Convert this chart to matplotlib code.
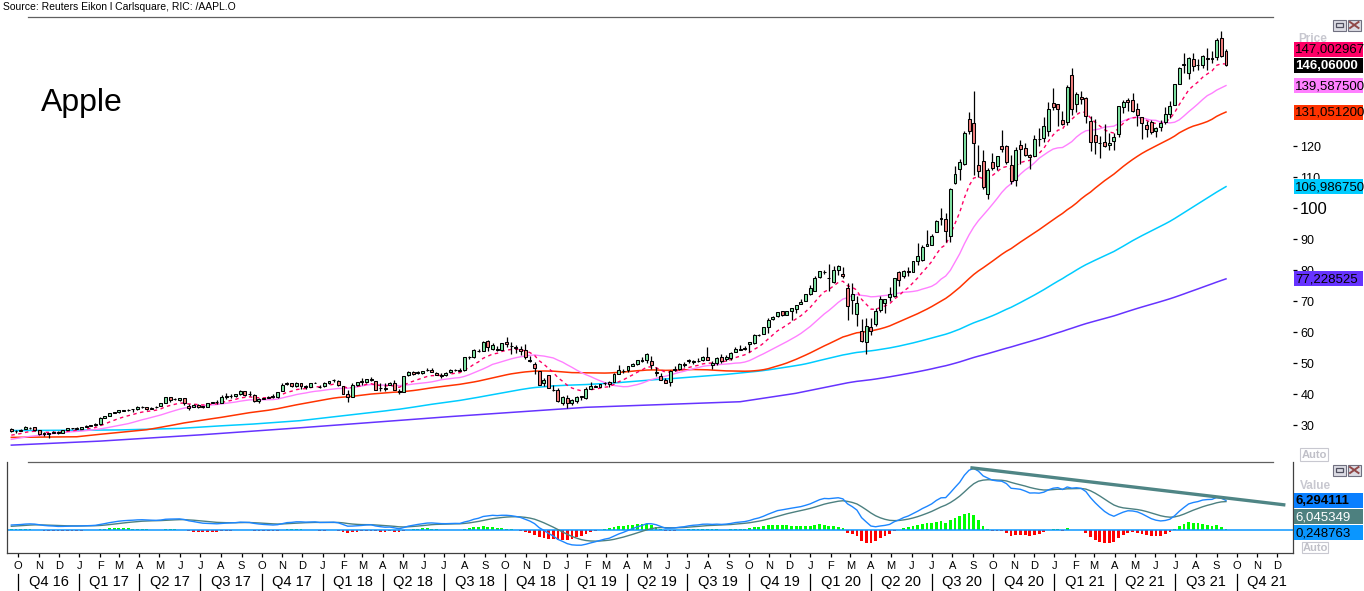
import matplotlib
matplotlib.use('Agg')
import matplotlib.pyplot as plt
import matplotlib.dates as mdates
import matplotlib.transforms as mtrans
from matplotlib.patches import Rectangle
from matplotlib.lines import Line2D
import numpy as np
import pandas as pd

plt.rcParams['font.family'] = ['Liberation Sans', 'DejaVu Sans']

# ---------------- data ----------------
first_week = '2016-09-21'   # mid-week of the first weekly candle

opens = [
    28.80, 28.06, 28.18, 28.76, 29.28, 29.34, 28.40, 27.50, 27.10, 27.60, 27.90, 27.60, 28.50, 29.00, 29.10,
    28.95, 29.49, 29.78, 30.00, 30.50, 32.28, 33.07, 34.00, 34.29, 34.68, 34.93, 35.10, 35.23, 35.93, 35.80, 35.37,
    35.90, 36.28, 37.25, 39.00, 38.50, 38.30, 38.80, 36.20, 35.90, 36.69, 36.22, 36.03, 37.20, 37.65, 37.28, 39.26,
    39.36, 39.50, 40.03, 40.94, 40.00, 39.80, 37.80, 38.56, 38.95, 39.45, 39.10, 41.00, 43.27, 43.50, 42.60, 43.76,
    42.60, 42.45, 43.71, 42.50,
    42.54, 43.72, 44.47, 44.33, 42.54, 40.00, 39.27, 43.01, 44.09, 43.92, 45.07, 44.33, 42.02, 41.66, 43.07, 43.75,
    41.20, 40.80, 46.30, 47.25, 46.90, 46.90, 47.90, 47.84, 46.97, 45.85, 46.28, 47.30, 47.88, 47.67, 47.98, 52.08,
    52.01, 54.10, 54.10, 57.10, 54.45, 54.55, 54.20, 56.99, 55.55, 55.29, 54.65, 54.20, 50.80, 49.90, 47.50, 43.70,
    46.12, 41.25, 41.36, 37.04,
    38.72, 37.17, 37.71, 39.00, 38.95, 41.85, 42.43, 42.43, 43.54, 43.87, 43.87, 46.45, 47.51, 47.91, 49.11, 49.65,
    50.71, 51.07, 50.76, 46.93, 45.88, 44.73, 43.90, 47.95, 48.18, 49.68, 50.79, 50.37, 50.83, 51.02, 52.19, 49.50,
    50.21, 52.10, 51.47, 51.61, 53.71, 54.43, 54.74, 56.27, 56.57, 59.10, 59.38, 61.85, 64.33, 65.28, 66.97, 65.68,
    66.82, 67.50, 69.25, 70.13,
    72.48, 73.45, 77.91, 79.30, 77.52, 76.07, 80.23, 78.84, 74.32, 70.57, 65.94, 60.49, 57.02, 61.63, 62.69, 67.08,
    69.49, 71.27, 71.56, 79.46, 78.29, 79.81, 79.44, 83.04, 83.31, 87.84, 88.31, 92.50, 96.99, 96.69, 90.99, 108.20,
    112.60, 114.35, 128.70, 127.58, 113.95, 115.23, 104.54, 115.01, 113.70, 120.06, 119.96, 114.01, 109.11, 120.50,
    119.44, 117.18, 116.97, 122.31, 122.60, 125.02, 133.99,
    133.52, 128.50, 127.78, 143.07, 133.75, 136.03, 135.49, 128.01, 123.75, 120.98, 121.41, 120.33, 121.65, 123.87,
    132.52, 134.83, 134.83, 132.04, 129.41, 126.82, 127.82, 125.08, 126.17, 127.82, 130.30, 133.41, 140.07, 146.21,
    143.75, 148.27, 146.36, 146.20, 148.54, 148.31, 148.66, 154.97, 150.63,
]
highs = [
    29.05, 28.50, 28.80, 29.67, 29.45, 29.51, 28.56, 27.74, 27.64, 28.05, 28.12, 28.58, 29.18, 29.25, 29.50,
    29.54, 29.98, 30.11, 30.59, 32.62, 33.11, 34.00, 34.37, 35.07, 34.99, 35.26, 35.25, 36.12, 36.37, 35.92, 35.88,
    36.07, 37.24, 39.10, 39.16, 38.72, 38.86, 38.95, 36.75, 36.79, 36.79, 36.32, 37.34, 37.61, 38.11, 39.93, 40.46,
    40.18, 40.18, 41.24, 41.06, 40.99, 40.00, 38.77, 38.87, 39.34, 40.21, 40.90, 43.56, 44.06, 43.67, 43.87, 43.77,
    42.92, 43.62, 44.09, 42.88,
    43.85, 44.34, 44.90, 44.45, 42.54, 41.28, 43.62, 43.95, 45.19, 45.00, 45.60, 44.43, 43.79, 43.55, 43.96, 44.74,
    41.68, 46.06, 47.59, 47.38, 47.41, 47.59, 48.55, 48.41, 47.30, 46.82, 47.11, 48.00, 48.20, 48.60, 52.19, 52.45,
    54.49, 54.50, 57.22, 57.42, 56.60, 55.57, 56.61, 58.37, 56.82, 55.90, 55.60, 56.28, 52.50, 50.44, 47.50, 45.30,
    46.24, 42.95, 41.96, 39.30,
    39.71, 38.63, 39.47, 39.53, 42.25, 43.89, 43.12, 43.33, 43.97, 44.44, 46.83, 49.42, 48.22, 49.27, 50.03, 51.04,
    51.94, 53.16, 52.20, 48.94, 47.00, 45.15, 47.98, 48.99, 50.15, 50.39, 51.27, 51.12, 51.65, 52.43, 55.34, 50.88,
    52.14, 53.01, 52.61, 53.60, 55.20, 55.94, 55.62, 56.95, 59.41, 59.53, 61.68, 64.46, 65.11, 66.44, 67.00, 66.90,
    67.75, 68.85, 70.66, 72.50,
    75.15, 78.17, 79.68, 80.00, 81.96, 81.31, 81.80, 81.16, 76.04, 76.00, 71.61, 64.40, 64.56, 64.56, 67.93, 71.74,
    70.75, 74.75, 77.59, 79.92, 80.22, 81.06, 82.94, 88.69, 88.30, 93.10, 91.84, 96.32, 99.96, 98.50, 106.42, 113.68,
    116.04, 124.87, 131.00, 137.98, 120.50, 118.83, 112.86, 117.72, 117.00, 125.39, 120.42, 117.28, 119.62, 121.99,
    120.99, 117.62, 123.78, 125.95, 129.58, 134.41, 138.79,
    133.61, 131.45, 139.67, 145.09, 137.42, 137.88, 136.01, 129.72, 128.72, 123.21, 127.22, 124.24, 124.18, 133.04,
    135.00, 135.53, 137.07, 134.07, 129.54, 128.00, 128.32, 126.16, 128.46, 132.55, 134.64, 140.00, 145.65, 150.00,
    148.72, 150.00, 148.04, 149.44, 151.68, 150.86, 154.98, 157.26, 151.42,
]
lows = [
    27.89, 27.65, 28.00, 28.66, 28.83, 28.30, 27.00, 26.70, 26.00, 27.50, 27.27, 27.37, 28.37, 28.90, 28.86,
    28.69, 29.44, 29.66, 29.88, 30.17, 32.20, 33.00, 33.82, 34.03, 34.46, 34.73, 34.26, 35.00, 35.60, 35.02, 35.18,
    35.61, 36.07, 37.10, 37.43, 38.10, 37.82, 36.50, 35.01, 35.79, 35.57, 35.60, 35.85, 37.03, 36.83, 37.10, 38.56,
    38.90, 39.10, 39.90, 39.55, 39.50, 37.62, 37.29, 38.40, 38.70, 38.75, 38.80, 41.00, 43.05, 42.30, 42.40, 41.79,
    41.60, 42.40, 43.55, 42.19,
    42.31, 43.42, 43.84, 42.58, 40.03, 37.56, 39.22, 42.58, 43.00, 43.78, 44.41, 41.23, 41.12, 41.12, 42.90, 41.40,
    40.16, 40.79, 45.90, 46.36, 46.55, 46.50, 47.50, 47.06, 46.20, 45.18, 45.85, 47.00, 47.38, 47.46, 47.50, 51.30,
    51.77, 53.80, 54.10, 54.12, 54.14, 54.11, 54.20, 55.14, 53.08, 53.24, 52.66, 51.36, 50.54, 46.48, 43.02, 42.56,
    41.88, 41.10, 37.56, 36.65,
    35.50, 36.48, 37.30, 38.22, 38.58, 41.74, 42.27, 42.37, 43.00, 42.38, 43.85, 46.45, 46.90, 47.10, 49.05, 49.52,
    50.56, 50.16, 48.19, 46.05, 44.45, 43.75, 42.57, 47.42, 47.90, 48.82, 50.16, 49.66, 50.39, 50.83, 50.93, 48.15,
    49.58, 50.25, 50.83, 51.05, 53.60, 54.37, 54.28, 53.78, 56.10, 58.67, 59.33, 59.67, 63.84, 64.83, 65.10, 65.62,
    64.07, 66.23, 69.25, 70.09,
    72.03, 73.19, 77.39, 78.91, 73.19, 75.80, 78.46, 77.63, 64.09, 65.75, 62.00, 57.00, 53.15, 59.22, 61.90, 66.44,
    66.36, 69.99, 71.46, 75.05, 77.40, 78.27, 79.30, 81.83, 83.14, 87.78, 88.25, 92.47, 94.67, 89.14, 89.14, 107.89,
    109.11, 113.96, 123.94, 110.89, 110.00, 106.09, 103.10, 112.22, 112.25, 118.15, 114.28, 107.72, 107.32, 114.13,
    116.81, 112.59, 116.81, 120.15, 121.54, 123.45, 131.72,
    126.38, 126.86, 126.94, 130.21, 130.93, 133.69, 127.41, 118.39, 117.57, 116.21, 119.68, 118.92, 118.86, 123.07,
    130.63, 131.30, 131.07, 126.70, 122.25, 122.86, 123.94, 123.13, 124.83, 127.07, 129.21, 133.35, 140.07, 143.63,
    141.67, 144.44, 144.50, 145.30, 144.50, 146.83, 147.80, 148.70, 145.76,
]
closes = [
    28.18, 28.26, 28.52, 29.41, 29.15, 28.43, 27.21, 27.11, 27.52, 27.95, 27.48, 28.49, 28.99, 29.13, 28.96,
    29.48, 29.76, 30.00, 30.49, 32.27, 33.03, 33.93, 34.17, 34.79, 34.79, 35.00, 35.16, 35.92, 35.84, 35.26, 35.57,
    35.91, 37.24, 39.03, 38.27, 38.40, 38.86, 37.25, 35.57, 36.57, 36.00, 36.05, 37.26, 37.57, 37.38, 39.10, 39.37,
    39.38, 39.97, 41.01, 39.66, 39.97, 37.97, 38.53, 38.83, 39.25, 39.06, 40.76, 43.13, 43.67, 42.54, 43.74, 42.76,
    42.34, 43.49, 43.75, 42.31,
    43.75, 44.27, 44.62, 42.88, 40.13, 39.10, 43.11, 43.88, 44.05, 45.00, 44.50, 41.24, 41.95, 42.10, 43.68, 41.43,
    40.58, 45.96, 47.15, 46.58, 47.15, 47.56, 47.93, 47.21, 46.23, 46.28, 46.99, 47.83, 47.86, 47.75, 52.00, 51.88,
    54.40, 54.04, 56.91, 55.33, 55.96, 54.42, 56.44, 56.07, 55.53, 54.83, 54.08, 51.87, 51.12, 48.38, 43.07, 44.65,
    42.12, 41.37, 37.68, 39.06,
    37.07, 38.07, 39.21, 39.44, 41.63, 42.60, 42.60, 43.24, 43.74, 43.23, 46.53, 47.76, 47.49, 49.25, 49.72, 50.97,
    51.08, 52.94, 49.30, 47.25, 44.74, 43.77, 47.54, 48.19, 49.70, 49.48, 51.06, 50.83, 50.65, 51.94, 51.00, 50.25,
    51.63, 50.66, 52.19, 53.32, 54.69, 54.43, 54.71, 56.75, 59.05, 59.10, 61.65, 63.96, 65.04, 66.44, 65.45, 66.81,
    67.68, 68.79, 69.86, 72.45,
    74.36, 77.58, 79.68, 79.58, 77.38, 80.01, 81.24, 78.26, 68.34, 72.26, 69.49, 57.31, 61.94, 60.35, 67.00, 70.70,
    70.74, 72.27, 77.53, 76.93, 79.72, 79.49, 82.88, 84.70, 87.43, 88.41, 91.03, 95.92, 96.52, 92.62, 106.26, 111.11,
    114.91, 124.37, 124.81, 120.96, 112.00, 106.84, 112.28, 113.02, 116.97, 119.02, 115.04, 108.86, 118.69, 119.26,
    117.34, 116.59, 122.25, 122.41, 126.66, 131.97, 132.69,
    132.05, 127.14, 139.07, 131.96, 136.76, 135.37, 129.87, 121.26, 121.42, 121.03, 119.99, 121.21, 123.00, 133.00,
    134.16, 134.32, 131.46, 130.21, 127.45, 125.43, 124.61, 125.89, 127.35, 130.46, 133.11, 139.96, 145.11, 146.39,
    148.56, 145.86, 146.14, 149.10, 148.19, 148.60, 154.30, 148.97, 146.06,
]
# weekly closes before the first visible candle (warm-up of the indicators)
history_closes = [23.18, 22.63, 23.81, 25.09, 24.48, 24.71, 23.83, 23.35, 23.97, 24.17,
                  24.70, 24.67, 26.05, 26.87, 27.05, 27.34, 26.74, 26.93, 25.78, 28.73]

# long moving averages read from the chart where their window is not yet filled
ma50_early_dates = ['2016-09-21', '2016-12-28', '2017-02-01']
ma50_early_values = [26.1, 26.3, 27.1]
ma100_early_dates = ['2016-09-21', '2017-03-02', '2017-06-01', '2017-07-30', '2017-09-18', '2017-11-28']
ma100_early_values = [28.3, 28.5, 29.0, 29.8, 30.4, 31.5]
ma200_early_dates = ['2016-09-21', '2017-02-01', '2017-06-30', '2017-11-28', '2018-07-10', '2019-01-30',
                     '2019-09-18', '2019-12-10']
ma200_early_values = [23.6, 24.9, 26.9, 29.2, 32.8, 35.8, 37.6, 40.3]

# hand-drawn trend line on the MACD panel
trend_dates = ['2020-08-28', '2021-12-13']
trend_values = [13.18, 5.33]

price_ticks = [30, 40, 50, 60, 70, 80, 90, 100, 110, 120]
price_label_texts = ['147,002967', '146,06000', '139,587500', '131,051200', '106,986750', '77,228525']
macd_label_texts = ['6,294111', '6,045349', '0,248763']
month_initials = ['J', 'F', 'M', 'A', 'M', 'J', 'J', 'A', 'S', 'O', 'N', 'D']
quarter_labels = ['Q4 16', 'Q1 17', 'Q2 17', 'Q3 17', 'Q4 17', 'Q1 18', 'Q2 18', 'Q3 18', 'Q4 18',
                  'Q1 19', 'Q2 19', 'Q3 19', 'Q4 19', 'Q1 20', 'Q2 20', 'Q3 20', 'Q4 20',
                  'Q1 21', 'Q2 21', 'Q3 21', 'Q4 21']
title = 'Apple'
source = 'Source: Reuters Eikon l Carlsquare, RIC: /AAPL.O'

# ---------------- layout ----------------
W, H, DPI = 1364, 591, 100
UP, DOWN = '#7FE3A3', '#F2807F'
C_EMA, C_20, C_50, C_100, C_200 = '#FF0066', '#FF80FF', '#FF3300', '#00CCFF', '#6633FF'

fig = plt.figure(figsize=(W / DPI, H / DPI), dpi=DPI)
fig.patch.set_facecolor('white')


def fx(px):
    return px / W


def fy(py):
    return 1 - py / H


def fig_rect(x0, y0, x1, y1, **kw):
    r = Rectangle((fx(x0), fy(y1)), fx(x1) - fx(x0), fy(y0) - fy(y1), transform=fig.transFigure, **kw)
    fig.add_artist(r)
    return r


def fig_line(xs, ys, **kw):
    fig.add_artist(Line2D([fx(v) for v in xs], [fy(v) for v in ys], transform=fig.transFigure, **kw))


ref = mdates.date2num(pd.Timestamp('2016-10-01'))
PX_PER_DAY = 0.6674
x_left = ref + (7 - 18) / PX_PER_DAY
x_right = ref + (1293 - 18) / PX_PER_DAY

ax = fig.add_axes([fx(7), fy(458), fx(1293) - fx(7), fy(17) - fy(458)])
ax.set_xlim(x_left, x_right)
ax.set_ylim(19.45, 161.7)
for s in ax.spines.values():
    s.set_visible(False)
ax.set_xticks([])
ax.yaxis.tick_right()
ax.set_yticks(price_ticks)
ax.set_yticklabels([str(t) for t in price_ticks])
ax.tick_params(axis='y', length=3, width=0.9, pad=2.2, labelsize=9, colors='black')
for lab in ax.get_yticklabels():
    if lab.get_text() == '100':
        lab.set_fontsize(12)

dates = pd.date_range(first_week, periods=len(closes), freq='7D')
xd = mdates.date2num(dates)
o, h, l, c = (np.array(a, dtype=float) for a in (opens, highs, lows, closes))

# indicators
allc = pd.Series(history_closes + closes, dtype=float)
nh = len(history_closes)
ema10 = allc.ewm(span=10, adjust=False).mean().to_numpy()[nh:]
sma20 = allc.rolling(20).mean().to_numpy()[nh:]


def long_ma(early_dates, early_vals, window):
    s = allc.rolling(window).mean().to_numpy()[nh:]
    ok = ~np.isnan(s)
    xs = np.concatenate([mdates.date2num(pd.to_datetime(early_dates)), xd[ok]])
    ys = np.concatenate([np.array(early_vals, dtype=float), s[ok]])
    return xs, ys


x200, y200 = long_ma(ma200_early_dates, ma200_early_values, 200)
x100, y100 = long_ma(ma100_early_dates, ma100_early_values, 100)
x50, y50 = long_ma(ma50_early_dates, ma50_early_values, 50)
ax.plot(x200, y200, color=C_200, lw=1.1, zorder=2)
ax.plot(x100, y100, color=C_100, lw=1.1, zorder=2)
ax.plot(x50, y50, color=C_50, lw=1.1, zorder=2)
ax.plot(xd, sma20, color=C_20, lw=1.0, zorder=2)
ax.plot(xd, ema10, color=C_EMA, lw=1.0, ls=(0, (2.5, 2.5)), zorder=2)

# candles
up = c >= o
ax.vlines(xd, l, h, color='black', lw=0.9, zorder=3)
bottoms = np.minimum(o, c)
heights = np.maximum(np.abs(c - o), 0.08)
ax.bar(xd, heights, bottom=bottoms, width=4.4, color=np.where(up, UP, DOWN),
       edgecolor='black', linewidth=0.75, zorder=4)

# ---------------- MACD panel ----------------
e12 = allc.ewm(span=12, adjust=False).mean()
e26 = allc.ewm(span=26, adjust=False).mean()
macd_all = e12 - e26
sig_all = macd_all.ewm(span=9, adjust=False).mean()
macd = macd_all.to_numpy()[nh:]
sig = sig_all.to_numpy()[nh:]
hist = macd - sig

axm = fig.add_axes([fx(7), fy(553), fx(1293) - fx(7), fy(462) - fy(553)])
axm.set_xlim(x_left, x_right)
axm.set_ylim(-4.78, 14.38)

hcol = np.where(hist >= 0, '#00FF00', '#FF0000')
hh = np.where(np.abs(hist) < 0.07, np.sign(hist + 1e-9) * 0.07, hist)
axm.bar(xd, hh, width=4.2, color=hcol, linewidth=0, zorder=1)

axm.axhline(0, color='#0A96FF', lw=1.1, zorder=2)
axm.plot(xd, sig, color='#4C8080', lw=1.0, zorder=3)
axm.plot(xd, macd, color='#1C86FF', lw=1.0, zorder=4)
axm.plot(mdates.date2num(pd.to_datetime(trend_dates)), trend_values, color='#4F8585', lw=2.4,
         solid_capstyle='butt', zorder=5)

axm.spines['top'].set_visible(False)
for k in ('left', 'bottom', 'right'):
    axm.spines[k].set_color('#404040')
    axm.spines[k].set_linewidth(0.9)
axm.set_yticks([])

months = pd.date_range('2016-10-01', '2021-12-01', freq='MS')
axm.set_xticks(mdates.date2num(months))
axm.set_xticklabels([month_initials[m.month - 1] for m in months])
axm.tick_params(axis='x', length=3, width=0.9, pad=2.6, labelsize=8, colors='black')

# quarter labels
btr = mtrans.blended_transform_factory(axm.transData, fig.transFigure)
qstarts = pd.date_range('2016-10-01', '2022-01-01', freq='QS')
for i, lab in enumerate(quarter_labels):
    a = mdates.date2num(qstarts[i])
    b = mdates.date2num(qstarts[i + 1])
    axm.text((a + b) / 2, fy(582), lab, transform=btr, ha='center', va='center', fontsize=10.5,
             clip_on=False)
    fig.add_artist(Line2D([a, a], [fy(574), fy(590)], transform=btr, color='black', lw=0.9))

# frame lines
fig_line([28, 1273], [17, 17], color='#606060', lw=0.9)
fig_line([28, 1273], [462, 462], color='#606060', lw=0.9)

# ---------------- texts ----------------
fig.text(fx(3), fy(6.5), source, fontsize=7.5, va='center', ha='left')
fig.text(fx(41), fy(111.5), title, fontsize=23, va='baseline', ha='left')


def label_box(yc, text, fc, tc, bold=False):
    fig_rect(1294, yc - 7.5, 1363, yc + 7.5, facecolor=fc, edgecolor='none', zorder=10)
    fig.text(fx(1295), fy(yc + 0.5), text, fontsize=9.5, color=tc, va='center', ha='left',
             fontweight='bold' if bold else 'normal', zorder=11)


def price_px(v):
    return H - ax.transData.transform((x_left, v))[1]


# grey "Price" caption sits behind the first label box
fig.text(fx(1313), fy(39.5), 'Price', fontsize=8.5, color='#C8C8D0', fontweight='bold', ha='center',
         va='center')

price_styles = [('#FF0066', 'black', False), ('#000000', 'white', True), ('#FF80FF', 'black', False),
                ('#FF3300', 'black', False), ('#00CCFF', 'black', False), ('#6633FF', 'black', False)]
vals = [float(t.replace(',', '.')) for t in price_label_texts]
centers = [price_px(v) for v in vals]
centers[0] = min(centers[0], centers[1] - 16)
for yc, t, (fc, tc, b) in zip(centers, price_label_texts, price_styles):
    label_box(yc, t, fc, tc, b)

macd_styles = [('#0A7FFF', 'black', True), ('#4D807F', 'white', False), ('#0A96FF', 'black', False)]
mv = float(macd_label_texts[0].replace(',', '.'))
yc0 = H - axm.transData.transform((x_left, mv))[1]
for i, (t, (fc, tc, b)) in enumerate(zip(macd_label_texts, macd_styles)):
    label_box(yc0 + 0.5 + i * 16, t, fc, tc, b)

fig.text(fx(1315), fy(486), 'Value', fontsize=8.5, color='#C8C8D0', fontweight='bold', ha='center',
         va='center')


def auto_box(x0, y0, x1, y1):
    fig_rect(x0, y0, x1, y1, facecolor='white', edgecolor='#C8C8D0', lw=0.8, zorder=9)
    fig.text(fx((x0 + x1) / 2), fy((y0 + y1) / 2 + 0.5), 'Auto', fontsize=8, color='#C0C0C8',
             fontweight='bold', ha='center', va='center', zorder=10)


auto_box(1300, 448, 1328, 461)
auto_box(1302, 542, 1328, 553)


def icons(y0):
    fig_rect(1333, y0, 1345.5, y0 + 11, facecolor='#DCDCE4', edgecolor='#707080', lw=0.8, zorder=9)
    fig_rect(1336, y0 + 3.5, 1342.5, y0 + 7.5, facecolor='none', edgecolor='#505060', lw=0.9, zorder=10)
    fig_rect(1347.5, y0, 1361, y0 + 11, facecolor='#DCDCE4', edgecolor='#707080', lw=0.8, zorder=9)
    fig_line([1350, 1358.5], [y0 + 2.5, y0 + 8.5], color='#904848', lw=1.4, zorder=10)
    fig_line([1350, 1358.5], [y0 + 8.5, y0 + 2.5], color='#904848', lw=1.4, zorder=10)


icons(19.5)
icons(464.5)

fig.savefig('out.png', dpi=DPI, facecolor='white')
